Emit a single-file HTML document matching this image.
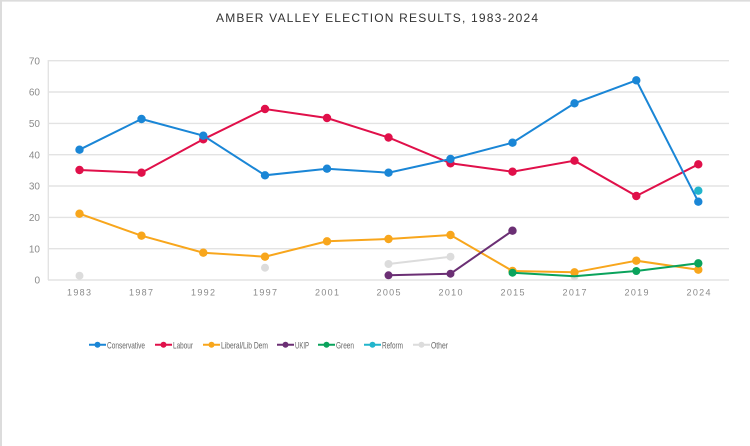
<!DOCTYPE html>
<html><head><meta charset="utf-8"><style>
html,body{margin:0;padding:0;background:#fff;}
svg{display:block;}
</style></head><body>
<svg width="750" height="446" viewBox="0 0 750 446" xmlns="http://www.w3.org/2000/svg" font-family="'Liberation Sans', sans-serif">
<rect x="0" y="0" width="750" height="446" fill="#fff"/>
<line x1="0" y1="0.8" x2="750" y2="0.8" stroke="#dcdcdc" stroke-width="1.6"/>
<line x1="1" y1="0" x2="1" y2="446" stroke="#dcdcdc" stroke-width="2"/>
<text x="216" y="22" font-size="12" fill="#333" textLength="322" lengthAdjust="spacing">AMBER VALLEY ELECTION RESULTS, 1983-2024</text>
<g stroke="#e3e3e3" stroke-width="1.4">
<line x1="48" y1="60.7" x2="729" y2="60.7"/>
<line x1="48" y1="92" x2="729" y2="92"/>
<line x1="48" y1="123.4" x2="729" y2="123.4"/>
<line x1="48" y1="154.7" x2="729" y2="154.7"/>
<line x1="48" y1="186" x2="729" y2="186"/>
<line x1="48" y1="217.4" x2="729" y2="217.4"/>
<line x1="48" y1="248.7" x2="729" y2="248.7"/>
<line x1="48" y1="280" x2="729" y2="280"/>
<line x1="48.3" y1="60" x2="48.3" y2="280"/>
</g>
<g font-size="10" fill="#8a8a8a" text-anchor="end">
<text x="40" y="64.3">70</text>
<text x="40" y="95.6">60</text>
<text x="40" y="127">50</text>
<text x="40" y="158.3">40</text>
<text x="40" y="189.6">30</text>
<text x="40" y="221">20</text>
<text x="40" y="252.3">10</text>
<text x="40" y="283.6">0</text>
</g>
<g font-size="9" fill="#8a8a8a">
<text x="67" y="295.5" textLength="24" lengthAdjust="spacing">1983</text>
<text x="129" y="295.5" textLength="24" lengthAdjust="spacing">1987</text>
<text x="191" y="295.5" textLength="24" lengthAdjust="spacing">1992</text>
<text x="253" y="295.5" textLength="24" lengthAdjust="spacing">1997</text>
<text x="315" y="295.5" textLength="24" lengthAdjust="spacing">2001</text>
<text x="376.5" y="295.5" textLength="24" lengthAdjust="spacing">2005</text>
<text x="438.5" y="295.5" textLength="24" lengthAdjust="spacing">2010</text>
<text x="500.5" y="295.5" textLength="24" lengthAdjust="spacing">2015</text>
<text x="562.5" y="295.5" textLength="24" lengthAdjust="spacing">2017</text>
<text x="624.5" y="295.5" textLength="24" lengthAdjust="spacing">2019</text>
<text x="686.5" y="295.5" textLength="24" lengthAdjust="spacing">2024</text>
</g>
<!-- Other -->
<g fill="#dcdcdc" stroke="#dcdcdc" stroke-width="2">
<polyline fill="none" points="388.5,264 450.5,256.7"/>
<circle cx="79.5" cy="275.7" r="4" stroke="none"/>
<circle cx="265" cy="267.7" r="4" stroke="none"/>
<circle cx="388.5" cy="264" r="4" stroke="none"/>
<circle cx="450.5" cy="256.7" r="4" stroke="none"/>
<circle cx="574.5" cy="276.3" r="4" stroke="none"/>
</g>
<!-- Lib Dem -->
<g fill="#f8a61c" stroke="#f8a61c" stroke-width="2">
<polyline fill="none" points="79.5,213.7 141.5,235.7 203.3,252.7 265,256.7 327,241.3 388.5,239 450.5,235 512.5,271 574.5,272.3 636.3,260.7 698.3,269.7"/>
<circle cx="79.5" cy="213.7" r="4.2" stroke="none"/>
<circle cx="141.5" cy="235.7" r="4.2" stroke="none"/>
<circle cx="203.3" cy="252.7" r="4.2" stroke="none"/>
<circle cx="265" cy="256.7" r="4.2" stroke="none"/>
<circle cx="327" cy="241.3" r="4.2" stroke="none"/>
<circle cx="388.5" cy="239" r="4.2" stroke="none"/>
<circle cx="450.5" cy="235" r="4.2" stroke="none"/>
<circle cx="512.5" cy="271" r="4.2" stroke="none"/>
<circle cx="574.5" cy="272.3" r="4.2" stroke="none"/>
<circle cx="636.3" cy="260.7" r="4.2" stroke="none"/>
<circle cx="698.3" cy="269.7" r="4.2" stroke="none"/>
</g>
<!-- UKIP -->
<g fill="#6b2f74" stroke="#6b2f74" stroke-width="2">
<polyline fill="none" points="388.5,275.3 450.5,273.7 512.5,230.7"/>
<circle cx="388.5" cy="275.3" r="4" stroke="none"/>
<circle cx="450.5" cy="273.7" r="4" stroke="none"/>
<circle cx="512.5" cy="230.7" r="4.2" stroke="none"/>
</g>
<!-- Green -->
<g fill="#0aa35c" stroke="#0aa35c" stroke-width="2">
<polyline fill="none" points="512.5,272.7 574.5,276.3 636.3,271 698.3,263.3"/>
<circle cx="512.5" cy="272.7" r="4" stroke="none"/>
<circle cx="636.3" cy="271" r="4" stroke="none"/>
<circle cx="698.3" cy="263.3" r="4.2" stroke="none"/>
</g>
<!-- Labour -->
<g fill="#e0104a" stroke="#e0104a" stroke-width="2">
<polyline fill="none" points="79.5,170 141.5,172.7 203.3,139.3 265,109 327,118 388.5,137.5 450.5,163.3 512.5,171.7 574.5,160.7 636.3,196 698.3,164.3"/>
<circle cx="79.5" cy="170" r="4.2" stroke="none"/>
<circle cx="141.5" cy="172.7" r="4.2" stroke="none"/>
<circle cx="203.3" cy="139.3" r="4.2" stroke="none"/>
<circle cx="265" cy="109" r="4.2" stroke="none"/>
<circle cx="327" cy="118" r="4.2" stroke="none"/>
<circle cx="388.5" cy="137.5" r="4.2" stroke="none"/>
<circle cx="450.5" cy="163.3" r="4.2" stroke="none"/>
<circle cx="512.5" cy="171.7" r="4.2" stroke="none"/>
<circle cx="574.5" cy="160.7" r="4.2" stroke="none"/>
<circle cx="636.3" cy="196" r="4.2" stroke="none"/>
<circle cx="698.3" cy="164.3" r="4.2" stroke="none"/>
</g>
<!-- Conservative -->
<g fill="#1a86d6" stroke="#1a86d6" stroke-width="2">
<polyline fill="none" points="79.5,149.7 141.5,119 203.3,135.7 265,175.3 327,168.7 388.5,172.7 450.5,159 512.5,142.7 574.5,103.3 636.3,80.3 698.3,201.7"/>
<circle cx="79.5" cy="149.7" r="4.2" stroke="none"/>
<circle cx="141.5" cy="119" r="4.2" stroke="none"/>
<circle cx="203.3" cy="135.7" r="4.2" stroke="none"/>
<circle cx="265" cy="175.3" r="4.2" stroke="none"/>
<circle cx="327" cy="168.7" r="4.2" stroke="none"/>
<circle cx="388.5" cy="172.7" r="4.2" stroke="none"/>
<circle cx="450.5" cy="159" r="4.2" stroke="none"/>
<circle cx="512.5" cy="142.7" r="4.2" stroke="none"/>
<circle cx="574.5" cy="103.3" r="4.2" stroke="none"/>
<circle cx="636.3" cy="80.3" r="4.2" stroke="none"/>
<circle cx="698.3" cy="201.7" r="4.2" stroke="none"/>
</g>
<!-- Reform -->
<circle cx="698.3" cy="190.7" r="4.2" fill="#22b5cc"/>
<!-- Legend -->
<g stroke-width="2">
<line x1="89" y1="344.7" x2="106" y2="344.7" stroke="#1a86d6"/><circle cx="97.5" cy="344.7" r="3" fill="#1a86d6"/>
<line x1="155" y1="344.7" x2="172" y2="344.7" stroke="#e0104a"/><circle cx="163.5" cy="344.7" r="3" fill="#e0104a"/>
<line x1="203" y1="344.7" x2="220" y2="344.7" stroke="#f8a61c"/><circle cx="211.5" cy="344.7" r="3" fill="#f8a61c"/>
<line x1="277" y1="344.7" x2="294" y2="344.7" stroke="#6b2f74"/><circle cx="285.5" cy="344.7" r="3" fill="#6b2f74"/>
<line x1="318" y1="344.7" x2="335" y2="344.7" stroke="#0aa35c"/><circle cx="326.5" cy="344.7" r="3" fill="#0aa35c"/>
<line x1="364" y1="344.7" x2="381" y2="344.7" stroke="#22b5cc"/><circle cx="372.5" cy="344.7" r="3" fill="#22b5cc"/>
<line x1="413" y1="344.7" x2="430" y2="344.7" stroke="#dcdcdc"/><circle cx="421.5" cy="344.7" r="3" fill="#dcdcdc"/>
</g>
<g font-size="9.5" fill="#666">
<text x="107" y="348.3" textLength="38" lengthAdjust="spacingAndGlyphs">Conservative</text>
<text x="173" y="348.3" textLength="20" lengthAdjust="spacingAndGlyphs">Labour</text>
<text x="221" y="348.3" textLength="47" lengthAdjust="spacingAndGlyphs">Liberal/Lib Dem</text>
<text x="295" y="348.3" textLength="14" lengthAdjust="spacingAndGlyphs">UKIP</text>
<text x="336" y="348.3" textLength="18" lengthAdjust="spacingAndGlyphs">Green</text>
<text x="382" y="348.3" textLength="21" lengthAdjust="spacingAndGlyphs">Reform</text>
<text x="431" y="348.3" textLength="17" lengthAdjust="spacingAndGlyphs">Other</text>
</g>
</svg>
</body></html>
